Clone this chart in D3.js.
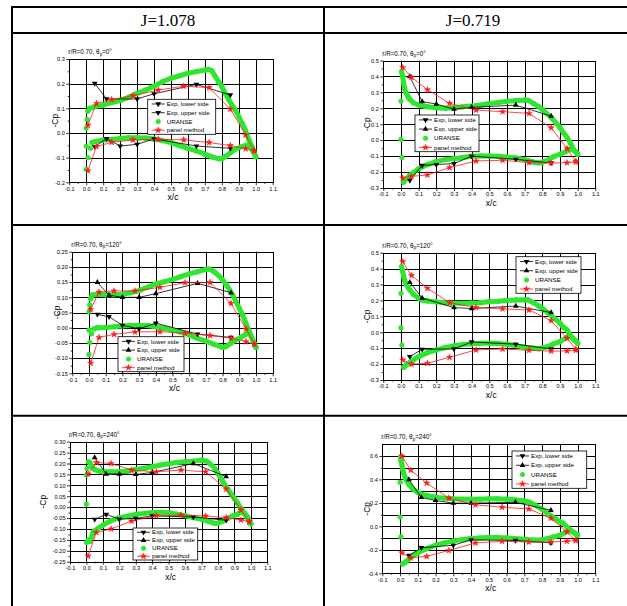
<!DOCTYPE html>
<meta charset="utf-8">
<style>
    body { margin: 0; background: #fff; }
    text { font-family: Arial, "Liberation Sans", sans-serif; fill: #000; }
</style>
<body>
<script src="https://cdn.jsdelivr.net/npm/d3@7"></script>
<script>

    // column headers
    var columns = ["J=1.078", "J=0.719"];
    var angles = ["0", "120", "240"];

    var xTicks = [-0.1, 0, 0.1, 0.2, 0.3, 0.4, 0.5, 0.6, 0.7, 0.8, 0.9, 1.0, 1.1];

    // panel method stations (shared by every plot)
    var pmX = [0.01, 0.06, 0.15, 0.275, 0.425, 0.575, 0.725, 0.85, 0.94, 0.99];

    // ---- J=1.078, theta=0
    var yTicks1 = [-0.2, -0.1, 0, 0.1, 0.2, 0.3];
    var expUp1 = [[0.05,0.201],[0.12,0.138],[0.3,0.138],[0.4,0.159],[0.65,0.197],[0.85,0.154]];
    var expLo1 = [[0.05,-0.055],[0.12,-0.023],[0.2,-0.053],[0.3,-0.046],[0.4,-0.024],[0.65,-0.053],[0.85,-0.062]];
    var pmUp1 = [0.032,0.12,0.136,0.151,0.174,0.19,0.184,0.097,-0.008,-0.072];
    var pmLo1 = [-0.153,-0.055,-0.038,-0.028,-0.026,-0.028,-0.039,-0.051,-0.064,-0.072];
    var uLE1 = [[0,0.02],[0.005,0.055],[0,-0.053],[0.01,-0.1],[0,-0.147],[0.024,-0.062]];
    var uUp1 = [[0.01,0.089],[0.02,0.1],[0.05,0.107],[0.1,0.113],[0.15,0.123],[0.2,0.131],[0.25,0.145],[0.3,0.161],[0.35,0.174],[0.4,0.19],[0.45,0.208],[0.5,0.222],[0.55,0.232],[0.6,0.242],[0.65,0.249],[0.7,0.255],[0.72,0.258],[0.74,0.253],[0.76,0.231],[0.78,0.208],[0.8,0.188],[0.82,0.161],[0.84,0.136],[0.86,0.113],[0.88,0.093],[0.9,0.066],[0.92,0.039],[0.94,0.01],[0.96,-0.028],[0.98,-0.058],[1.0,-0.096]];
    var uLo1 = [[0.034,-0.039],[0.05,-0.035],[0.1,-0.028],[0.15,-0.026],[0.2,-0.022],[0.25,-0.019],[0.3,-0.019],[0.35,-0.02],[0.4,-0.024],[0.45,-0.031],[0.5,-0.039],[0.55,-0.051],[0.6,-0.062],[0.65,-0.073],[0.7,-0.086],[0.75,-0.099],[0.78,-0.105],[0.8,-0.105],[0.82,-0.096],[0.85,-0.08],[0.88,-0.066],[0.91,-0.057],[0.94,-0.05],[0.96,-0.05],[0.98,-0.07],[1.0,-0.096]];

    // ---- J=0.719, theta=0
    var yTicks2 = [-0.3, -0.2, -0.1, 0, 0.1, 0.2, 0.3, 0.4, 0.5];
    var expUp2 = [[0.05,0.399],[0.12,0.242],[0.2,0.227],[0.3,0.195],[0.4,0.206],[0.65,0.22],[0.85,0.151]];
    var expLo2 = [[0.05,-0.252],[0.12,-0.158],[0.2,-0.153],[0.3,-0.147],[0.4,-0.1],[0.65,-0.12],[0.85,-0.143]];
    var pmUp2 = [0.456,0.395,0.317,0.231,0.189,0.179,0.168,0.078,-0.053,-0.132];
    var pmLo2 = [-0.237,-0.227,-0.218,-0.172,-0.13,-0.126,-0.141,-0.143,-0.141,-0.137];
    var uLE2 = [[0,0.246],[0,0.006],[0.005,-0.109]];
    var uUp2 = [[0.003,0.43],[0.01,0.4],[0.015,0.357],[0.02,0.326],[0.03,0.294],[0.04,0.273],[0.05,0.256],[0.07,0.235],[0.1,0.221],[0.15,0.21],[0.2,0.204],[0.25,0.2],[0.3,0.204],[0.35,0.21],[0.4,0.214],[0.45,0.22],[0.5,0.231],[0.55,0.237],[0.6,0.244],[0.65,0.248],[0.7,0.252],[0.72,0.25],[0.75,0.231],[0.78,0.21],[0.8,0.193],[0.82,0.172],[0.85,0.143],[0.88,0.105],[0.9,0.08],[0.92,0.046],[0.94,0.017],[0.96,-0.021],[0.98,-0.063],[1.0,-0.088]];
    var uLo2 = [[0.015,-0.263],[0.02,-0.255],[0.03,-0.242],[0.05,-0.221],[0.07,-0.204],[0.1,-0.179],[0.15,-0.153],[0.2,-0.134],[0.25,-0.122],[0.3,-0.116],[0.35,-0.109],[0.4,-0.101],[0.45,-0.099],[0.5,-0.099],[0.55,-0.101],[0.6,-0.105],[0.65,-0.111],[0.7,-0.122],[0.75,-0.137],[0.78,-0.143],[0.8,-0.139],[0.83,-0.126],[0.86,-0.105],[0.9,-0.088],[0.93,-0.074],[0.95,-0.059],[0.97,-0.053],[0.99,-0.074],[1.0,-0.088]];

    // ---- J=1.078, theta=120
    var yTicks3 = [-0.15, -0.1, -0.05, 0, 0.05, 0.1, 0.15, 0.2, 0.25];
    var expUp3 = [[0.05,0.149],[0.12,0.107],[0.2,0.1],[0.3,0.1],[0.4,0.112],[0.65,0.146],[0.85,0.115]];
    var expLo3 = [[0.05,0.044],[0.12,0.036],[0.2,0.008],[0.3,-0.004],[0.4,0.015],[0.65,-0.021],[0.85,-0.032]];
    var pmUp3 = [0.06,0.117,0.121,0.121,0.133,0.148,0.149,0.08,-0.004,-0.054];
    var pmLo3 = [-0.117,-0.032,-0.022,-0.014,-0.013,-0.018,-0.026,-0.034,-0.046,-0.055];
    var uLE3 = [[0,0.053],[0.004,0.075],[0,-0.008],[0.005,-0.049],[0,-0.088],[0.015,-0.02]];
    var uUp3 = [[0.01,0.095],[0.02,0.108],[0.05,0.11],[0.1,0.108],[0.15,0.108],[0.2,0.11],[0.25,0.115],[0.3,0.122],[0.35,0.133],[0.4,0.144],[0.45,0.151],[0.5,0.159],[0.55,0.168],[0.6,0.177],[0.65,0.184],[0.7,0.192],[0.72,0.193],[0.75,0.184],[0.78,0.17],[0.8,0.157],[0.83,0.135],[0.86,0.108],[0.88,0.086],[0.9,0.064],[0.92,0.042],[0.94,0.014],[0.96,-0.013],[0.98,-0.04],[1.0,-0.065]];
    var uLo3 = [[0.03,-0.004],[0.05,0.0],[0.1,0.001],[0.15,0.003],[0.2,0.006],[0.25,0.007],[0.3,0.007],[0.35,0.007],[0.4,0.003],[0.45,-0.002],[0.5,-0.008],[0.55,-0.015],[0.6,-0.024],[0.65,-0.035],[0.7,-0.044],[0.75,-0.055],[0.8,-0.065],[0.82,-0.062],[0.85,-0.051],[0.88,-0.04],[0.91,-0.032],[0.94,-0.021],[0.96,-0.016],[0.98,-0.04],[1.0,-0.065]];

    // ---- J=0.719, theta=120
    var yTicks4 = [-0.3, -0.2, -0.1, 0, 0.1, 0.2, 0.3, 0.4, 0.5];
    var expUp4 = [[0.05,0.314],[0.12,0.215],[0.3,0.155],[0.4,0.149],[0.65,0.165],[0.85,0.124]];
    var expLo4 = [[0.05,-0.153],[0.12,-0.107],[0.3,-0.105],[0.4,-0.061],[0.65,-0.075],[0.85,-0.105]];
    var pmUp4 = [0.444,0.356,0.276,0.186,0.155,0.147,0.14,0.073,-0.038,-0.105];
    var pmLo4 = [-0.174,-0.201,-0.195,-0.157,-0.111,-0.105,-0.113,-0.119,-0.117,-0.113];
    var uLE4 = [[0,0.245],[0,0.029],[0.005,-0.08]];
    var uUp4 = [[0.003,0.413],[0.01,0.381],[0.015,0.35],[0.02,0.329],[0.03,0.302],[0.04,0.283],[0.05,0.266],[0.07,0.239],[0.1,0.214],[0.12,0.203],[0.15,0.197],[0.2,0.191],[0.25,0.186],[0.3,0.182],[0.35,0.182],[0.4,0.184],[0.45,0.186],[0.5,0.193],[0.55,0.195],[0.6,0.199],[0.65,0.203],[0.7,0.205],[0.72,0.203],[0.75,0.186],[0.78,0.165],[0.8,0.151],[0.83,0.124],[0.86,0.094],[0.88,0.077],[0.9,0.057],[0.92,0.031],[0.94,0.015],[0.96,-0.023],[0.98,-0.048],[1.0,-0.069]];
    var uLo4 = [[0.015,-0.22],[0.02,-0.216],[0.03,-0.205],[0.05,-0.191],[0.07,-0.174],[0.1,-0.153],[0.15,-0.128],[0.2,-0.111],[0.25,-0.096],[0.3,-0.086],[0.35,-0.077],[0.4,-0.073],[0.45,-0.069],[0.5,-0.069],[0.55,-0.071],[0.6,-0.075],[0.65,-0.084],[0.7,-0.094],[0.75,-0.1],[0.78,-0.103],[0.8,-0.1],[0.83,-0.09],[0.86,-0.075],[0.9,-0.059],[0.93,-0.038],[0.95,-0.023],[0.97,-0.034],[0.99,-0.054],[1.0,-0.069]];

    // ---- J=1.078, theta=240
    var yTicks5 = [-0.25, -0.2, -0.15, -0.1, -0.05, 0, 0.05, 0.1, 0.15, 0.2, 0.25, 0.3];
    var expUp5 = [[0.05,0.227],[0.12,0.152],[0.2,0.152],[0.3,0.15],[0.4,0.159],[0.65,0.2],[0.85,0.14]];
    var expLo5 = [[0.05,-0.056],[0.12,-0.033],[0.2,-0.055],[0.3,-0.052],[0.4,-0.04],[0.65,-0.045],[0.85,-0.06]];
    var pmUp5 = [0.152,0.205,0.2,0.17,0.162,0.17,0.162,0.083,-0.013,-0.067];
    var pmLo5 = [-0.224,-0.116,-0.1,-0.064,-0.039,-0.036,-0.041,-0.048,-0.059,-0.067];
    var uLE5 = [[0,0.147],[0.004,0.178],[0,0.014],[0,-0.161],[0.01,-0.15],[0.02,-0.158]];
    var uUp5 = [[0.012,0.208],[0.02,0.205],[0.03,0.19],[0.04,0.18],[0.05,0.172],[0.075,0.166],[0.1,0.162],[0.15,0.162],[0.2,0.162],[0.25,0.166],[0.3,0.173],[0.35,0.178],[0.4,0.185],[0.45,0.193],[0.5,0.199],[0.55,0.205],[0.6,0.208],[0.65,0.211],[0.7,0.216],[0.73,0.211],[0.75,0.2],[0.78,0.178],[0.8,0.155],[0.83,0.117],[0.86,0.083],[0.88,0.06],[0.9,0.04],[0.92,0.017],[0.94,-0.006],[0.96,-0.026],[0.98,-0.044],[1.0,-0.077]];
    var uLo5 = [[0.03,-0.138],[0.04,-0.116],[0.05,-0.107],[0.07,-0.097],[0.1,-0.082],[0.15,-0.062],[0.2,-0.048],[0.25,-0.041],[0.3,-0.033],[0.35,-0.029],[0.4,-0.024],[0.45,-0.024],[0.5,-0.026],[0.55,-0.032],[0.6,-0.039],[0.65,-0.048],[0.7,-0.056],[0.75,-0.067],[0.78,-0.074],[0.8,-0.074],[0.83,-0.064],[0.86,-0.051],[0.89,-0.04],[0.92,-0.032],[0.94,-0.021],[0.96,-0.029],[0.98,-0.051],[1.0,-0.077]];

    // ---- J=0.719, theta=240
    var yTicks6 = [-0.4, -0.2, 0, 0.2, 0.4, 0.6];
    var expUp6 = [[0.05,0.399],[0.12,0.247],[0.2,0.221],[0.3,0.198],[0.4,0.198],[0.65,0.205],[0.85,0.137]];
    var expLo6 = [[0.05,-0.248],[0.12,-0.182],[0.3,-0.161],[0.4,-0.115],[0.65,-0.12],[0.85,-0.14]];
    var pmUp6 = [0.6,0.479,0.37,0.241,0.184,0.163,0.149,0.069,-0.046,-0.118];
    var pmLo6 = [-0.225,-0.268,-0.256,-0.205,-0.141,-0.127,-0.133,-0.133,-0.127,-0.121];
    var uLE6 = [[0,0.376],[0,0.08],[0.005,-0.09]];
    var uUp6 = [[0.003,0.59],[0.006,0.557],[0.01,0.528],[0.015,0.485],[0.02,0.456],[0.03,0.413],[0.04,0.384],[0.05,0.356],[0.07,0.321],[0.1,0.29],[0.12,0.275],[0.15,0.264],[0.2,0.249],[0.25,0.241],[0.3,0.235],[0.35,0.232],[0.4,0.232],[0.45,0.232],[0.5,0.235],[0.55,0.235],[0.6,0.232],[0.65,0.226],[0.7,0.218],[0.73,0.206],[0.76,0.183],[0.8,0.146],[0.83,0.111],[0.86,0.08],[0.88,0.06],[0.9,0.04],[0.92,0.026],[0.94,-0.003],[0.96,-0.032],[0.98,-0.052],[1.0,-0.075]];
    var uLo6 = [[0.015,-0.32],[0.025,-0.311],[0.035,-0.299],[0.05,-0.276],[0.07,-0.253],[0.1,-0.225],[0.15,-0.19],[0.2,-0.161],[0.25,-0.141],[0.3,-0.124],[0.35,-0.113],[0.4,-0.104],[0.45,-0.098],[0.5,-0.095],[0.55,-0.095],[0.6,-0.098],[0.65,-0.104],[0.7,-0.11],[0.75,-0.116],[0.8,-0.113],[0.83,-0.104],[0.86,-0.092],[0.9,-0.075],[0.93,-0.052],[0.95,-0.032],[0.97,-0.046],[0.99,-0.066],[1.0,-0.075]];

    var legendLabels = ["Exp, lower side", "Exp, upper side", "URANSE", "panel method"];

    // layout of each plot inside the table
    var panels = [
        {frame: [69.3, 59, 272.7, 182.3], yDom: [-0.2, 0.3], yTicks: yTicks1, fmt: ".1f", grid: 0.1, legend: [147.7, 99.3, 68, 35], ylabX: 55, angle: angles[0], upDown: true,
         expUp: expUp1, expLo: expLo1, pmUp: pmUp1, pmLo: pmLo1, uLE: uLE1, uUp: uUp1, uLo: uLo1},
        {frame: [383.3, 60.5, 595.3, 188], yDom: [-0.3, 0.5], yTicks: yTicks2, fmt: ".1f", grid: 0.1, legend: [415, 115, 64, 36.7], ylabX: 366.7, angle: angles[0],
         expUp: expUp2, expLo: expLo2, pmUp: pmUp2, pmLo: pmLo2, uLE: uLE2, uUp: uUp2, uLo: uLo2},
        {frame: [72.3, 251.7, 272.7, 373.3], yDom: [-0.15, 0.25], yTicks: yTicks3, fmt: ".2f", grid: 0.05, legend: [118, 336.7, 66, 35], ylabX: 56.7, angle: angles[1],
         expUp: expUp3, expLo: expLo3, pmUp: pmUp3, pmLo: pmLo3, uLE: uLE3, uUp: uUp3, uLo: uLo3},
        {frame: [383.3, 252.7, 595.3, 380], yDom: [-0.3, 0.5], yTicks: yTicks4, fmt: ".1f", grid: 0.1, legend: [516, 256.7, 65, 36.6], ylabX: 366.7, angle: angles[1],
         expUp: expUp4, expLo: expLo4, pmUp: pmUp4, pmLo: pmLo4, uLE: uLE4, uUp: uUp4, uLo: uLo4},
        {frame: [70, 441.7, 267.3, 561.7], yDom: [-0.25, 0.3], yTicks: yTicks5, fmt: ".2f", grid: 0.05, legend: [133, 528, 64.7, 32], ylabX: 43.3, angle: angles[2],
         expUp: expUp5, expLo: expLo5, pmUp: pmUp5, pmLo: pmLo5, uLE: uLE5, uUp: uUp5, uLo: uLo5},
        {frame: [382.3, 444.3, 595.3, 573.3], yDom: [-0.4, 0.7], yTicks: yTicks6, fmt: ".1f", grid: 0.1, legend: [512, 451, 74.7, 37.3], ylabX: 366.7, angle: angles[2],
         expUp: expUp6, expLo: expLo6, pmUp: pmUp6, pmLo: pmLo6, uLE: uLE6, uUp: uUp6, uLo: uLo6}
    ];

    var green = "#2ee62e", red = "#ff1a1a";

    var svg = d3.select("body").append("svg")
        .attr("width", 627)
        .attr("height", 606);

    // table rules
    var tbl = svg.append("g").attr("stroke", "#000").attr("stroke-width", 2);
    tbl.append("line").attr("x1", 12).attr("x2", 640).attr("y1", 7).attr("y2", 7);
    tbl.append("line").attr("x1", 12).attr("x2", 640).attr("y1", 33).attr("y2", 33);
    tbl.append("line").attr("x1", 12).attr("x2", 640).attr("y1", 225).attr("y2", 225);
    tbl.append("line").attr("x1", 12).attr("x2", 640).attr("y1", 415.7).attr("y2", 415.7);
    tbl.append("line").attr("x1", 12).attr("x2", 12).attr("y1", 6).attr("y2", 606);
    tbl.append("line").attr("x1", 324).attr("x2", 324).attr("y1", 6).attr("y2", 606);

    svg.selectAll(".hdr").data(columns).enter().append("text")
        .attr("x", function(d, i) { return i ? 473 : 168; })
        .attr("y", 26)
        .attr("text-anchor", "middle")
        .style("font-family", "'Liberation Serif', 'Times New Roman', serif")
        .style("font-size", "17px")
        .text(function(d) { return d; });

    // hyphen instead of the unicode minus that d3.format gives
    function hyph(f) {
        var ff = d3.format(f);
        return function(v) { return ff(v).replace("\u2212", "-"); };
    }
    var fmtX = hyph(".1f");
    function crisp(v) { return Math.round(v) + 0.5; }

    panels.forEach(function(p) {
        var l = p.frame[0], t = p.frame[1], r = p.frame[2], b = p.frame[3];
        var x = d3.scaleLinear().domain([-0.1, 1.1]).range([l, r]);
        var y = d3.scaleLinear().domain(p.yDom).range([b, t]);
        var g = svg.append("g");
        var fmtY = hyph(p.fmt);

        // grid, snapped to whole pixels so it stays black
        var gx = xTicks.filter(function(v) { return v > -0.09 && v < 1.09; });
        g.selectAll(".gx").data(gx).enter().append("line")
            .attr("x1", function(d) { return crisp(x(d)); }).attr("x2", function(d) { return crisp(x(d)); })
            .attr("y1", t).attr("y2", b)
            .attr("stroke", "#000").attr("stroke-width", 1);
        var gy = d3.range(Math.round((p.yDom[1] - p.yDom[0]) / p.grid) + 1)
            .map(function(i) { return p.yDom[0] + i * p.grid; });
        g.selectAll(".gy").data(gy).enter().append("line")
            .attr("x1", l).attr("x2", r)
            .attr("y1", function(d) { return crisp(y(d)); }).attr("y2", function(d) { return crisp(y(d)); })
            .attr("stroke", "#000").attr("stroke-width", 1);

        g.append("rect").attr("x", crisp(l)).attr("y", crisp(t))
            .attr("width", Math.round(r) - Math.round(l)).attr("height", Math.round(b) - Math.round(t))
            .attr("fill", "none").attr("stroke", "#000").attr("stroke-width", 1);

        // axes
        var ax = d3.axisBottom(x).tickValues(xTicks).tickFormat(fmtX).tickSize(3).tickPadding(1.5);
        g.append("g").attr("transform", "translate(0," + b + ")").call(ax);
        var minorY = p.yTicks.slice(1).map(function(v, i) { return (v + p.yTicks[i]) / 2; });
        var ay = d3.axisLeft(y).tickValues(p.yTicks).tickFormat(fmtY).tickSize(3).tickPadding(1.5);
        g.append("g").attr("transform", "translate(" + l + ",0)").call(ay);
        g.append("g").attr("transform", "translate(" + l + ",0)")
            .call(d3.axisLeft(y).tickValues(minorY).tickFormat("").tickSize(1.6));
        var minorX = xTicks.slice(1).map(function(v, i) { return (v + xTicks[i]) / 2; });
        g.append("g").attr("transform", "translate(0," + b + ")")
            .call(d3.axisBottom(x).tickValues(minorX).tickFormat("").tickSize(1.6));
        g.selectAll(".domain").remove();
        g.selectAll(".tick line").attr("stroke", "#000").attr("stroke-width", 0.8);
        g.selectAll(".tick text").style("font-size", "5.6px").style("font-family", "Arial, 'Liberation Sans', sans-serif");

        // labels
        var title = g.append("text").attr("x", l - 1).attr("y", t - 5).style("font-size", "6.3px");
        title.append("tspan").text("r/R=0.70, \u03b8");
        title.append("tspan").attr("dy", 1.5).style("font-size", "4.5px").text("p");
        title.append("tspan").attr("dy", -1.5).text("=" + p.angle + "\u00b0");
        g.append("text").attr("x", (l + r) / 2 + 2).attr("y", b + 18)
            .attr("text-anchor", "middle").style("font-size", "8.5px").text("x/c");
        g.append("text").attr("transform", "translate(" + p.ylabX + "," + ((t + b) / 2) + ") rotate(-90)")
            .attr("text-anchor", "middle").attr("dy", "0.35em").style("font-size", "8.5px").text("-Cp");

        var line = d3.line().x(function(d) { return x(d[0]); }).y(function(d) { return y(d[1]); });

        // URANSE band
        [p.uUp, p.uLo].forEach(function(s) {
            g.append("path").attr("d", line(s)).attr("fill", "none")
                .attr("stroke", green).attr("stroke-width", 5)
                .attr("stroke-linejoin", "round").attr("stroke-linecap", "round");
        });
        g.selectAll(".ud").data(p.uUp.concat(p.uLo, p.uLE)).enter().append("circle")
            .attr("cx", function(d) { return x(d[0]); }).attr("cy", function(d) { return y(d[1]); })
            .attr("r", 2.6).attr("fill", green);

        // experiments
        var tri = d3.symbol().type(d3.symbolTriangle).size(14);
        [[p.expLo, true], [p.expUp, !!p.upDown]].forEach(function(e) {
            g.append("path").attr("d", line(e[0])).attr("fill", "none")
                .attr("stroke", "#000").attr("stroke-width", 0.8);
            g.selectAll(null).data(e[0]).enter().append("path")
                .attr("d", tri)
                .attr("transform", function(d) { return "translate(" + x(d[0]) + "," + y(d[1]) + ")" + (e[1] ? " rotate(180)" : ""); })
                .attr("fill", "#000");
        });

        // panel method
        var star = d3.symbol().type(d3.symbolStar).size(12);
        [p.pmUp, p.pmLo].forEach(function(s) {
            var pts = s.map(function(v, i) { return [pmX[i], v]; });
            g.append("path").attr("d", line(pts)).attr("fill", "none")
                .attr("stroke", red).attr("stroke-width", 0.8);
            g.selectAll(null).data(pts).enter().append("path")
                .attr("d", star)
                .attr("transform", function(d) { return "translate(" + x(d[0]) + "," + y(d[1]) + ")"; })
                .attr("fill", red).attr("stroke", red).attr("stroke-width", 0.5);
        });

        // legend
        var L = p.legend;
        var lg = g.append("g").attr("transform", "translate(" + L[0] + "," + L[1] + ")");
        lg.append("rect").attr("width", L[2]).attr("height", L[3])
            .attr("fill", "#fff").attr("stroke", "#000").attr("stroke-width", 0.8);
        var rowH = L[3] / 4;
        legendLabels.forEach(function(lab, i) {
            var cy = rowH * (i + 0.5) + 0.3;
            var row = lg.append("g").attr("transform", "translate(0," + cy + ")");
            if (i !== 2) {
                row.append("line").attr("x1", 4).attr("x2", 17).attr("y1", 0).attr("y2", 0)
                    .attr("stroke", i === 3 ? red : "#000").attr("stroke-width", 0.8);
            }
            if (i === 3) {
                row.append("path").attr("d", star).attr("transform", "translate(10.5,0)")
                    .attr("fill", red).attr("stroke", red).attr("stroke-width", 0.5);
            } else if (i === 2) {
                row.append("circle").attr("cx", 10.5).attr("r", 2.5).attr("fill", green);
            } else {
                var down = i === 0 || p.upDown;
                row.append("path").attr("d", tri)
                    .attr("transform", "translate(10.5,0)" + (down ? " rotate(180)" : "")).attr("fill", "#000");
            }
            row.append("text").attr("x", 19).attr("dy", "0.35em").style("font-size", "6.2px").text(lab);
        });
    });

</script>
